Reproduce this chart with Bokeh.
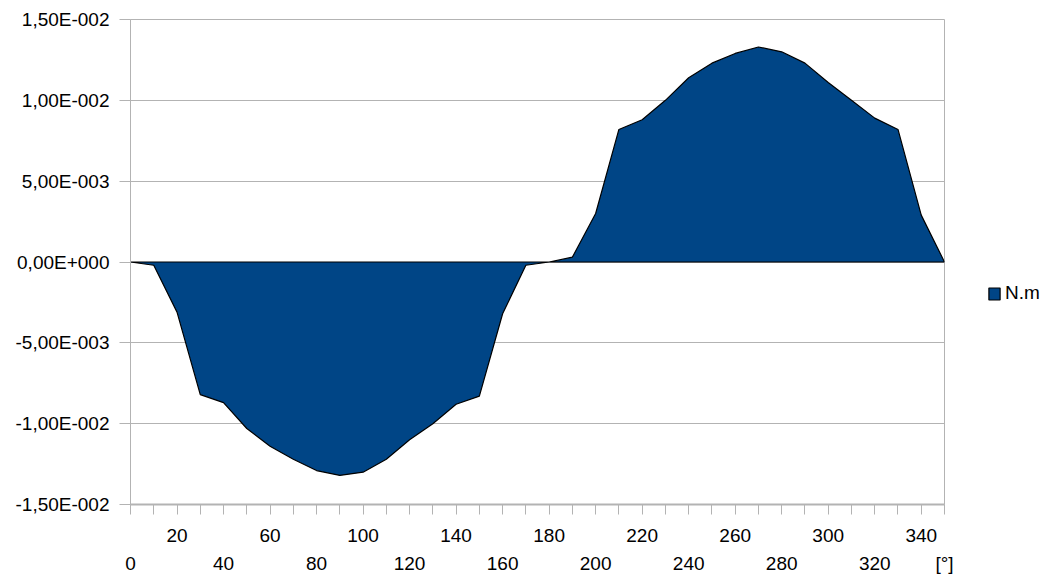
from bokeh.plotting import figure
from bokeh.models import FixedTicker, LinearAxis, Legend, LegendItem, Range1d
from bokeh.embed import file_html
from bokeh.resources import INLINE

# ---- data ----
angles = [0, 10, 20, 30, 40, 50, 60, 70, 80, 90, 100, 110, 120, 130, 140, 150, 160, 170,
          180, 190, 200, 210, 220, 230, 240, 250, 260, 270, 280, 290, 300, 310, 320, 330, 340, 350]
torque = [0.0, -0.0002, -0.0031, -0.0082, -0.0087, -0.0103, -0.0114, -0.0122, -0.0129,
          -0.0132, -0.0130, -0.0122, -0.0110, -0.0100, -0.0088, -0.0083, -0.0032, -0.0002,
          0.0, 0.0003, 0.0030, 0.0082, 0.0088, 0.0100, 0.0114, 0.0123, 0.0129, 0.0133,
          0.0130, 0.0123, 0.0111, 0.0100, 0.0089, 0.0082, 0.0029, 0.0]
series_name = "N.m"

y_ticks = [-0.015, -0.01, -0.005, 0.0, 0.005, 0.01, 0.015]
y_tick_labels = ["-1,50E-002", "-1,00E-002", "-5,00E-003", "0,00E+000",
                 "5,00E-003", "1,00E-002", "1,50E-002"]
x_tick_marks = angles
x_row1_ticks = [20, 60, 100, 140, 180, 220, 260, 300, 340]
x_row1_labels = ["20", "60", "100", "140", "180", "220", "260", "300", "340"]
x_row2_ticks = [0, 40, 80, 120, 160, 200, 240, 280, 320, 350]
x_row2_labels = ["0", "40", "80", "120", "160", "200", "240", "280", "320", "[°]"]

FONT = "Liberation Sans"
FS = "19px"
GRAY = "#b3b3b3"

p = figure(frame_width=814, frame_height=485, output_backend="svg", toolbar_location=None,
           x_range=Range1d(0, 350), y_range=Range1d(-0.015, 0.015),
           min_border_left=130, min_border_right=102, min_border_top=19, min_border_bottom=71)
p.outline_line_color = GRAY
p.background_fill_color = "white"
p.border_fill_color = "white"

r = p.patch(angles, torque, fill_color="#004586", line_color="black", line_width=1.2)

# y axis
ya = p.yaxis[0]
ya.ticker = FixedTicker(ticks=y_ticks)
ya.major_label_overrides = dict(zip(y_ticks, y_tick_labels))
ya.axis_line_color = GRAY
ya.major_tick_line_color = GRAY
ya.major_tick_out = 11
ya.major_tick_in = 0
ya.minor_tick_line_color = None
ya.major_label_standoff = 10
ya.major_label_text_font = FONT
ya.major_label_text_font_size = FS
ya.major_label_text_color = "black"

p.ygrid.ticker = FixedTicker(ticks=y_ticks)
p.ygrid.grid_line_color = GRAY
p.xgrid.visible = False

# x axis, first label row + tick marks
xa = p.xaxis[0]
row1 = dict(zip(x_row1_ticks, x_row1_labels))
xa.ticker = FixedTicker(ticks=x_tick_marks)
xa.major_label_overrides = {t: row1.get(t, "") for t in x_tick_marks}
xa.axis_line_color = GRAY
xa.axis_line_width = 2
xa.major_tick_line_color = GRAY
xa.major_tick_out = 10
xa.major_tick_in = 0
xa.minor_tick_line_color = None
xa.major_label_standoff = 14
xa.major_label_text_font = FONT
xa.major_label_text_font_size = FS
xa.major_label_text_color = "black"

# x axis, second (staggered) label row
xa2 = LinearAxis(ticker=FixedTicker(ticks=x_row2_ticks),
                 major_label_overrides=dict(zip(x_row2_ticks, x_row2_labels)),
                 axis_line_color=None, major_tick_line_color=None, minor_tick_line_color=None,
                 major_tick_out=0, major_tick_in=0, major_label_standoff=8,
                 major_label_text_font=FONT, major_label_text_font_size=FS,
                 major_label_text_color="black")
p.add_layout(xa2, "below")

legend = Legend(items=[LegendItem(label=series_name, renderers=[r])],
                location=(43, 200), margin=0, padding=0, spacing=0,
                border_line_color=None, background_fill_alpha=0,
                glyph_width=14, glyph_height=15, label_standoff=4,
                label_text_font=FONT, label_text_font_size=FS, label_text_color="black")
p.add_layout(legend, "right")

open("out.html", "w").write(file_html(p, INLINE))
